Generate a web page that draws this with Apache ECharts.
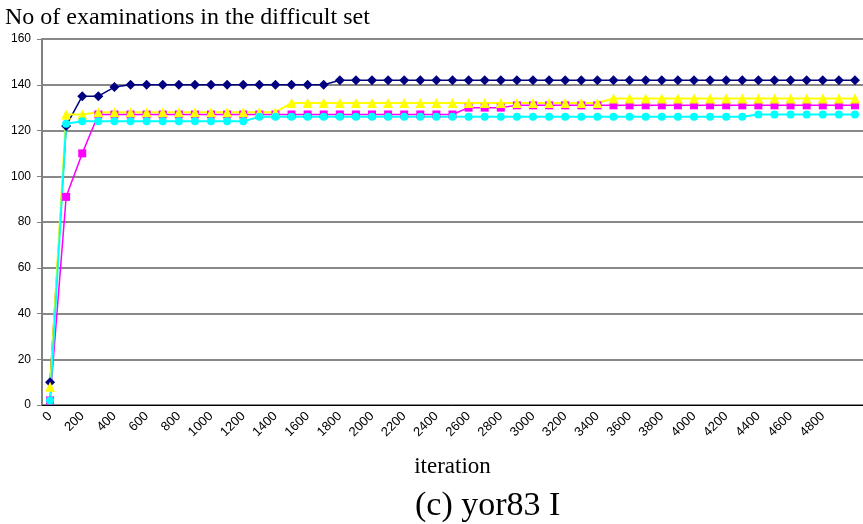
<!DOCTYPE html>
<html>
<head>
<meta charset="utf-8">
<title>No of examinations in the difficult set</title>
<script src="https://cdn.jsdelivr.net/npm/echarts@6/dist/echarts.min.js"></script>
<style>
  html, body { margin: 0; padding: 0; background: #fff; }
  #chart { width: 863px; height: 524px; }
</style>
</head>
<body>
<div id="chart"></div>
<script>
// iteration categories, one every 100 (last one runs off the right edge)
const iterations = [
  '0', '100', '200', '300', '400', '500', '600', '700', '800', '900',
  '1000', '1100', '1200', '1300', '1400', '1500', '1600', '1700', '1800', '1900',
  '2000', '2100', '2200', '2300', '2400', '2500', '2600', '2700', '2800', '2900',
  '3000', '3100', '3200', '3300', '3400', '3500', '3600', '3700', '3800', '3900',
  '4000', '4100', '4200', '4300', '4400', '4500', '4600', '4700', '4800', '4900',
  '5000',
];

const navyRun = [
  10, 122, 135, 135, 139, 140, 140, 140, 140, 140,
  140, 140, 140, 140, 140, 140, 140, 140, 142, 142,
  142, 142, 142, 142, 142, 142, 142, 142, 142, 142,
  142, 142, 142, 142, 142, 142, 142, 142, 142, 142,
  142, 142, 142, 142, 142, 142, 142, 142, 142, 142,
  142,
];

const magentaRun = [
  2, 91, 110, 127, 127, 127, 127, 127, 127, 127,
  127, 127, 127, 127, 127, 127, 127, 127, 127, 127,
  127, 127, 127, 127, 127, 127, 130, 130, 130, 131,
  131, 131, 131, 131, 131, 131, 131, 131, 131, 131,
  131, 131, 131, 131, 131, 131, 131, 131, 131, 131,
  131,
];

const yellowRun = [
  8, 127, 127, 128, 128, 128, 128, 128, 128, 128,
  128, 128, 128, 128, 128, 132, 132, 132, 132, 132,
  132, 132, 132, 132, 132, 132, 132, 132, 132, 132,
  132, 132, 132, 132, 132, 134, 134, 134, 134, 134,
  134, 134, 134, 134, 134, 134, 134, 134, 134, 134,
  134,
];

const cyanRun = [
  2, 123, 124, 124, 124, 124, 124, 124, 124, 124,
  124, 124, 124, 126, 126, 126, 126, 126, 126, 126,
  126, 126, 126, 126, 126, 126, 126, 126, 126, 126,
  126, 126, 126, 126, 126, 126, 126, 126, 126, 126,
  126, 126, 126, 126, 127, 127, 127, 127, 127, 127,
  127,
];

const yTicks = { min: 0, max: 160, interval: 20 };

const serif = '"Liberation Serif", "Times New Roman", serif';
const sans = '"Liberation Sans", Arial, sans-serif';

const chart = echarts.init(document.getElementById('chart'));

const makeSeries = (data, color, symbol, size, width) => ({
  type: 'line',
  data,
  symbol,
  symbolSize: size,
  showSymbol: true,
  lineStyle: { color, width },
  itemStyle: { color, borderWidth: 0 },
  emphasis: { disabled: true },
});

chart.setOption({
  animation: false,
  backgroundColor: '#fff',
  title: [
    {
      text: 'No of examinations in the difficult set',
      left: 0,
      top: 1,
      textStyle: {
        fontFamily: serif, fontSize: 24, fontWeight: 'normal', color: '#000',
      },
    },
    {
      text: '(c) yor83 I',
      left: 410,
      top: 484,
      textStyle: {
        fontFamily: serif, fontSize: 34, fontWeight: 'normal', color: '#000',
      },
    },
  ],
  grid: {
    left: 42,
    top: 39,
    width: 832,
    height: 366,
  },
  xAxis: {
    type: 'category',
    data: iterations,
    boundaryGap: true,
    name: 'iteration',
    nameLocation: 'middle',
    nameGap: 50,
    nameTextStyle: { fontFamily: serif, fontSize: 23, color: '#000' },
    axisLine: { lineStyle: { color: '#000', width: 1 } },
    axisTick: {
      interval: 0, length: 5, lineStyle: { color: '#000' },
    },
    axisLabel: {
      interval: (index) => index % 2 === 0 && index < 50,
      rotate: 45,
      margin: 9,
      fontFamily: sans,
      fontSize: 13,
      color: '#000',
    },
    splitLine: { show: false },
  },
  yAxis: {
    type: 'value',
    min: yTicks.min,
    max: yTicks.max,
    interval: yTicks.interval,
    axisLine: { show: true, lineStyle: { color: '#808080', width: 2 } },
    axisTick: { show: true, length: 5, lineStyle: { color: '#808080' } },
    axisLabel: {
      margin: 11, fontFamily: sans, fontSize: 12, color: '#000',
    },
    splitLine: { lineStyle: { color: '#606060', width: 1.5 } },
  },
  series: [
    makeSeries(navyRun, '#000080', 'diamond', 10, 1.5),
    makeSeries(magentaRun, '#ff00ff', 'rect', 8, 1.5),
    makeSeries(yellowRun, '#ffff00', 'triangle', 10, 2),
    makeSeries(cyanRun, '#00ffff', 'circle', 8, 2),
  ],
});
</script>
</body>
</html>
